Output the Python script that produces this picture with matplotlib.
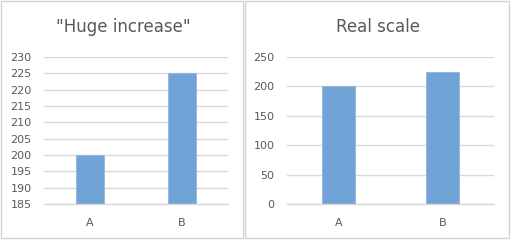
import matplotlib.pyplot as plt
from matplotlib.patches import Rectangle

categories = ['A', 'B']
values = [200, 225]

left_ticks = [185, 190, 195, 200, 205, 210, 215, 220, 225, 230]
right_ticks = [0, 50, 100, 150, 200, 250]

W, H = 512, 242
bar_color = '#72a3d6'
grid_color = '#d9d9d9'
text_color = '#595959'

fig = plt.figure(figsize=(W / 100, H / 100), dpi=100)
fig.patch.set_facecolor('white')


def px(x0, y0, x1, y1):
    # pixel box (top-left origin) -> figure fraction rect
    return [x0 / W, 1 - y1 / H, (x1 - x0) / W, (y1 - y0) / H]


# chart frames
for (x0, x1) in [(1, 243), (245, 509)]:
    fig.patches.append(Rectangle((x0 / W, 1 - 238 / H), (x1 - x0) / W, 237 / H,
                                 transform=fig.transFigure, fill=False,
                                 edgecolor='#d4d4d4', linewidth=1.0))


def draw(rect, ticks, ylim, width, title, title_x):
    ax = fig.add_axes(px(*rect))
    ax.bar(range(len(categories)), values, width=width, color=bar_color,
           edgecolor='#8db6e0', linewidth=0.6, zorder=2)
    ax.set_xlim(-0.5, len(categories) - 0.5)
    ax.set_ylim(*ylim)
    ax.set_yticks(ticks)
    ax.set_xticks(range(len(categories)))
    ax.set_xticklabels(categories)
    ax.grid(axis='y', color=grid_color, linewidth=1.0, zorder=0)
    ax.set_axisbelow(True)
    for s in ['top', 'right', 'left']:
        ax.spines[s].set_visible(False)
    ax.spines['bottom'].set_color(grid_color)
    ax.spines['bottom'].set_linewidth(1.0)
    ax.tick_params(axis='both', length=0, colors=text_color, labelsize=8)
    ax.tick_params(axis='x', pad=10)
    ax.tick_params(axis='y', pad=9)
    ax.patch.set_alpha(0)
    fig.text(title_x / W, 1 - 27 / H, title, ha='center', va='center',
             fontsize=12, color=text_color)
    return ax


draw((44, 57, 228, 204), left_ticks, (185, 230), 0.31, '"Huge increase"', 123)
draw((287, 57, 494, 204), right_ticks, (0, 250), 0.32, 'Real scale', 378)

fig.savefig('out.png', dpi=100)
